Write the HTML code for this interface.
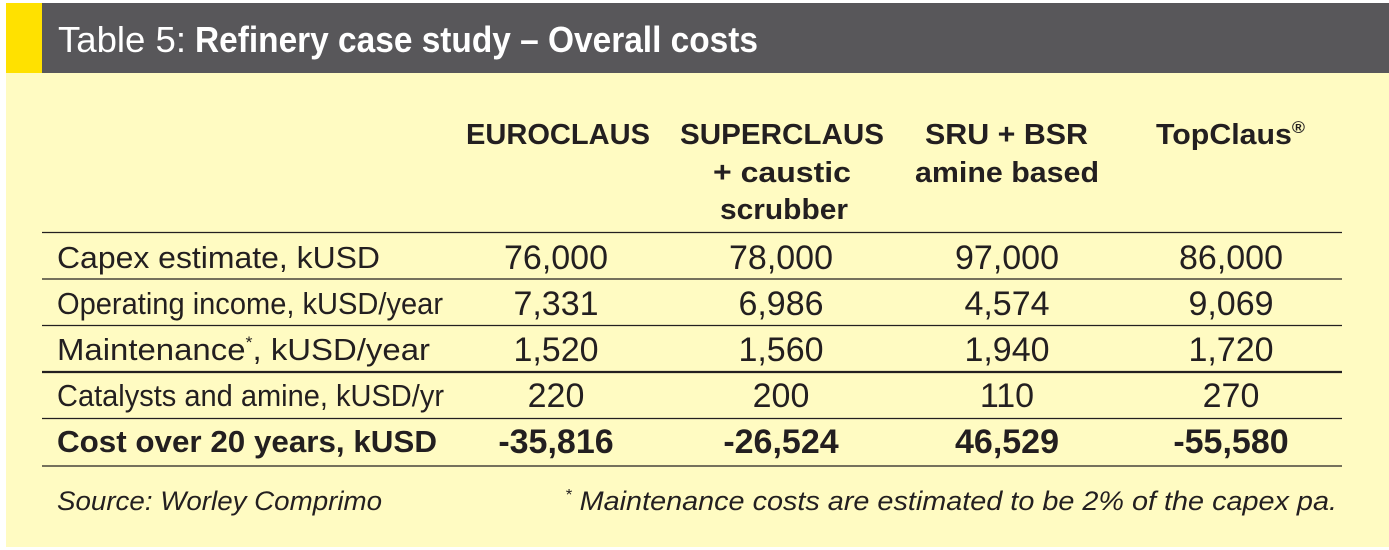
<!DOCTYPE html>
<html><head><meta charset="utf-8"><style>
html,body{margin:0;padding:0;background:#fff;}
svg{display:block;}
text{font-family:"Liberation Sans",sans-serif;fill:#231f20;}
.b{font-weight:bold;}
.i{font-style:italic;}
</style></head><body>
<svg width="1389" height="550" viewBox="0 0 1389 550" xmlns="http://www.w3.org/2000/svg">
<rect x="0" y="0" width="1389" height="550" fill="#fff"/>
<rect x="6" y="73" width="1383" height="474" fill="#fffbc2"/>
<rect x="6" y="3" width="36" height="70" fill="#ffe100"/>
<rect x="42" y="3" width="1347" height="70" fill="#58575a"/>
<text x="58" y="52" font-size="36" style="fill:#fff" textLength="128" lengthAdjust="spacingAndGlyphs">Table 5:</text>
<text x="195" y="52" font-size="36" class="b" style="fill:#fff" textLength="563" lengthAdjust="spacingAndGlyphs">Refinery case study – Overall costs</text>

<g font-size="29" class="b">
<text x="466" y="144" class="b" textLength="184" lengthAdjust="spacingAndGlyphs">EUROCLAUS</text>
<text x="680" y="144" class="b" textLength="204" lengthAdjust="spacingAndGlyphs">SUPERCLAUS</text>
<text x="713" y="182" class="b" textLength="138" lengthAdjust="spacingAndGlyphs">+ caustic</text>
<text x="720" y="219" class="b" textLength="128" lengthAdjust="spacingAndGlyphs">scrubber</text>
<text x="925" y="144" class="b" textLength="163" lengthAdjust="spacingAndGlyphs">SRU + BSR</text>
<text x="915" y="182" class="b" textLength="184" lengthAdjust="spacingAndGlyphs">amine based</text>
<text x="1156" y="144" class="b" textLength="149" lengthAdjust="spacingAndGlyphs">TopClaus<tspan font-size="17" dy="-11">®</tspan></text>
</g>

<g stroke="#231f20">
<line x1="42" x2="1342" y1="232.5" y2="232.5" stroke-width="1.3"/>
<line x1="42" x2="1342" y1="279" y2="279" stroke-width="1.3"/>
<line x1="42" x2="1342" y1="325.5" y2="325.5" stroke-width="1.3"/>
<line x1="42" x2="1342" y1="372" y2="372" stroke-width="2.2"/>
<line x1="42" x2="1342" y1="418.5" y2="418.5" stroke-width="1.3"/>
<line x1="42" x2="1342" y1="466" y2="466" stroke-width="1.3"/>
</g>

<g font-size="31">
<text x="57" y="268" textLength="323" lengthAdjust="spacingAndGlyphs">Capex estimate, kUSD</text>
<text x="57" y="314" textLength="386" lengthAdjust="spacingAndGlyphs">Operating income, kUSD/year</text>
<text x="57" y="360" textLength="373" lengthAdjust="spacingAndGlyphs">Maintenance<tspan font-size="17" dy="-12">*</tspan><tspan dy="12">, kUSD/year</tspan></text>
<text x="57" y="406" textLength="387" lengthAdjust="spacingAndGlyphs">Catalysts and amine, kUSD/yr</text>
<text x="57" y="452" class="b" textLength="380" lengthAdjust="spacingAndGlyphs">Cost over 20 years, kUSD</text>
</g>

<g font-size="34" text-anchor="middle">
<text x="556" y="269">76,000</text><text x="781" y="269">78,000</text><text x="1007" y="269">97,000</text><text x="1231" y="269">86,000</text>
<text x="556" y="315">7,331</text><text x="781" y="315">6,986</text><text x="1007" y="315">4,574</text><text x="1231" y="315">9,069</text>
<text x="556" y="361">1,520</text><text x="781" y="361">1,560</text><text x="1007" y="361">1,940</text><text x="1231" y="361">1,720</text>
<text x="556" y="407">220</text><text x="781" y="407">200</text><text x="1007" y="407">110</text><text x="1231" y="407">270</text>
<text x="556" y="453" class="b">-35,816</text><text x="781" y="453" class="b">-26,524</text><text x="1007" y="453" class="b">46,529</text><text x="1231" y="453" class="b">-55,580</text>
</g>

<text x="57" y="510" font-size="27" class="i" textLength="325" lengthAdjust="spacingAndGlyphs">Source: Worley Comprimo</text>
<text x="565" y="510" font-size="27" class="i" textLength="772" lengthAdjust="spacingAndGlyphs"><tspan font-size="16" dy="-10">*</tspan><tspan dy="10"> Maintenance costs are estimated to be 2% of the capex pa.</tspan></text>
</svg>
</body></html>
